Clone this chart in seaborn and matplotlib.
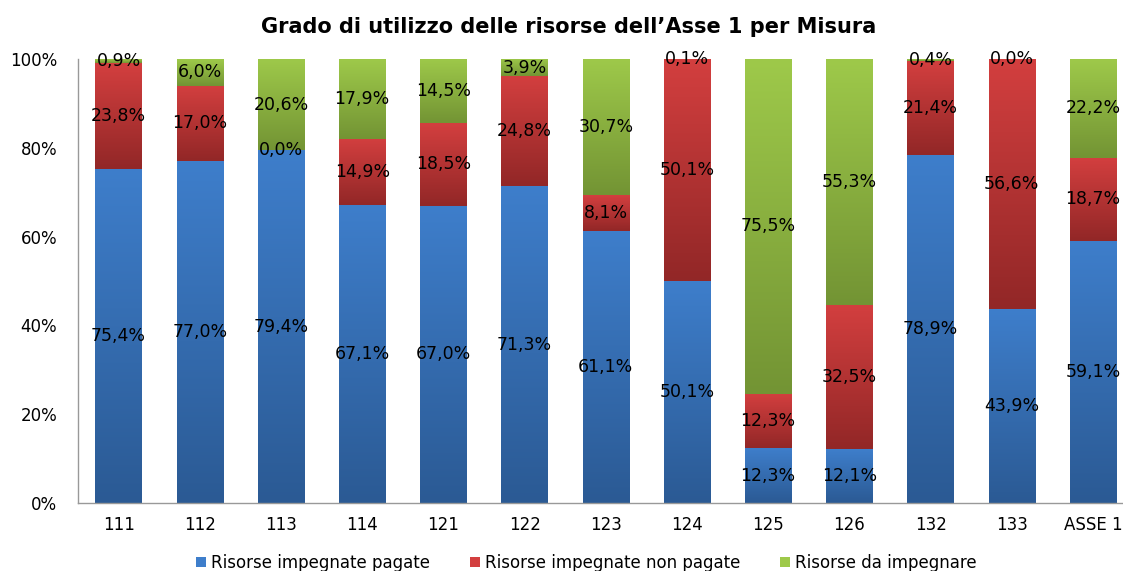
import numpy as np
import pandas as pd
import matplotlib
matplotlib.use("Agg")
import matplotlib.pyplot as plt
from matplotlib.colors import to_rgb
from matplotlib.patches import Patch
import seaborn as sns

misure = ["111", "112", "113", "114", "121", "122", "123", "124", "125", "126", "132", "133", "ASSE 1"]
pagate = [75.4, 77.0, 79.4, 67.1, 67.0, 71.3, 61.1, 50.1, 12.3, 12.1, 78.9, 43.9, 59.1]
non_pagate = [23.8, 17.0, 0.0, 14.9, 18.5, 24.8, 8.1, 50.1, 12.3, 32.5, 21.4, 56.6, 18.7]
da_impegnare = [0.9, 6.0, 20.6, 17.9, 14.5, 3.9, 30.7, 0.1, 75.5, 55.3, 0.4, 0.0, 22.2]

serie = ["Risorse impegnate pagate", "Risorse impegnate non pagate", "Risorse da impegnare"]
# colore in alto / in basso del gradiente
colori = {
    "Risorse impegnate pagate": ("#3e7ecb", "#2b5a94"),
    "Risorse impegnate non pagate": ("#d33f3f", "#922727"),
    "Risorse da impegnare": ("#9ec94a", "#739434"),
}

df = pd.DataFrame({"Misura": misure, serie[0]: pagate, serie[1]: non_pagate, serie[2]: da_impegnare})
totale = df[serie].sum(axis=1)

sns.set_style("white")
plt.rcParams["font.family"] = ["DejaVu Sans"]
plt.rcParams["text.color"] = "black"

fig = plt.figure(figsize=(11.23, 5.71), dpi=100)
ax = fig.add_axes([78 / 1123, 1 - 503 / 571, 1 - 78 / 1123, (503 - 59) / 571])

base = np.zeros(len(df))
for s in serie:
    quota = (df[s] / totale * 100).to_numpy()
    sns.barplot(x="Misura", y=quota, data=df, bottom=base, color=colori[s][0],
                width=0.57, ax=ax, order=misure, errorbar=None, linewidth=0)
    base = base + quota

# gradiente verticale in ogni segmento
n = len(misure)
for i, patch in enumerate(ax.patches):
    s = serie[i // n]
    top, bot = np.array(to_rgb(colori[s][0])), np.array(to_rgb(colori[s][1]))
    t = np.linspace(0, 1, 128)[:, None]
    grad = (top * (1 - t) + bot * t)[:, None, :]
    x0, y0 = patch.get_x(), patch.get_y()
    w, h = patch.get_width(), patch.get_height()
    patch.set_alpha(0)
    if h > 0:
        ax.imshow(grad, extent=(x0, x0 + w, y0, y0 + h), aspect="auto", zorder=2, interpolation="bilinear")
    val = df[s].iloc[i % n]
    ax.text(x0 + w / 2, y0 + h / 2, f"{val:.1f}%".replace(".", ","), ha="center", va="center",
            fontsize=12.5, color="black", zorder=3)

ax.set_xlim(-0.5, 12.37)
ax.set_ylim(0, 100)
ax.set_yticks(range(0, 101, 20))
ax.set_yticklabels([f"{v}%" for v in range(0, 101, 20)])
ax.set_xlabel("")
ax.set_ylabel("")
ax.tick_params(axis="both", length=0, labelsize=12, colors="black")
ax.tick_params(axis="y", pad=15)
ax.tick_params(axis="x", pad=9)
for side in ["top", "right"]:
    ax.spines[side].set_visible(False)
for side in ["left", "bottom"]:
    ax.spines[side].set_color("#999999")
    ax.spines[side].set_linewidth(1)

fig.text(0.506, 1 - 27 / 571, "Grado di utilizzo delle risorse dell\u2019Asse 1 per Misura",
         ha="center", va="center", fontsize=15, fontweight="bold", color="black")

handles = [Patch(facecolor=colori[s][0], edgecolor="none") for s in serie]
fig.legend(handles, serie, loc="center", bbox_to_anchor=(0.522, 1 - 563 / 571), ncol=3, frameon=False,
           fontsize=12, handlelength=0.6, handleheight=0.6, handletextpad=0.3, columnspacing=2.4,
           borderpad=0, labelcolor="black")

fig.savefig("out.png", dpi=100)
